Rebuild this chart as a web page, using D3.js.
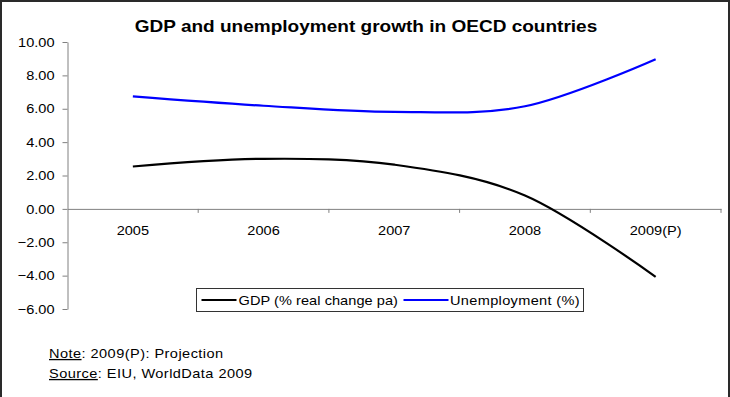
<!DOCTYPE html>
<html>
<head>
<meta charset="utf-8">
<script src="https://cdn.jsdelivr.net/npm/d3@7"></script>
<style>
  html, body { margin: 0; padding: 0; background: #fff; }
  svg { display: block; font-family: "Liberation Sans", Arial, sans-serif; }
</style>
</head>
<body>
<svg id="chart" width="730" height="397"></svg>
<script>
// OECD GDP growth and unemployment, 2005-2009 (2009 projected)
const years = ["2005", "2006", "2007", "2008", "2009(P)"];
const gdp = [2.54, 3.0, 2.65, 0.8, -4.07];
const unemployment = [6.74, 6.18, 5.81, 6.15, 8.97];
const yTicks = [10, 8, 6, 4, 2, 0, -2, -4, -6];
const seriesNames = ["GDP (% real change pa)", "Unemployment (%)"];
const seriesColors = ["#000000", "#0000ff"];

const svg = d3.select("#chart");
const W = 730, H = 397;
const SX = 1.12; // horizontal stretch applied to all text

// frame around the whole chart
svg.append("rect")
  .attr("x", 1).attr("y", 1)
  .attr("width", W - 2).attr("height", H + 4)
  .attr("fill", "#fff").attr("stroke", "#2a2a2a").attr("stroke-width", 2);

const plot = { left: 67.5, right: 721, top: 42, bottom: 309 };

const x = d3.scaleBand().domain(years).range([plot.left, plot.right]).padding(0);
const y = d3.scaleLinear().domain([-6, 10]).range([plot.bottom, plot.top]);

function placeText(sel, px, py) {
  return sel.attr("transform", `translate(${px},${py}) scale(${SX},1)`);
}

// title
placeText(svg.append("text"), 366, 32)
  .attr("text-anchor", "middle")
  .attr("font-size", 17).attr("font-weight", "bold")
  .text("GDP and unemployment growth in OECD countries");

// y axis
const yAxis = svg.append("g")
  .attr("transform", `translate(${plot.left},0)`)
  .call(d3.axisLeft(y).tickValues(yTicks).tickFormat(d3.format(".2f")).tickSize(5).tickSizeOuter(0));
yAxis.select(".domain").attr("stroke", "#808080");
yAxis.selectAll(".tick line").attr("stroke", "#808080");
yAxis.selectAll(".tick text")
  .attr("font-size", 13).attr("fill", "#000")
  .attr("font-family", "Liberation Sans, Arial, sans-serif")
  .attr("x", -13 / SX)
  .attr("transform", `scale(${SX},1)`);

// x axis at zero: category labels centred in bands, ticks on band boundaries
const zeroY = y(0);
const xAxis = svg.append("g")
  .attr("transform", `translate(0,${zeroY})`)
  .call(d3.axisBottom(x).tickSize(0).tickPadding(17).tickSizeOuter(0));
xAxis.select(".domain").attr("stroke", "#808080");
xAxis.selectAll(".tick text")
  .attr("font-size", 13).attr("fill", "#000")
  .attr("font-family", "Liberation Sans, Arial, sans-serif")
  .attr("transform", `scale(${SX},1)`);

const boundaries = years.map(d => x(d)).concat([x.range()[1]]).slice(1);
svg.append("g").selectAll("line")
  .data(boundaries).join("line")
  .attr("x1", d => d).attr("x2", d => d)
  .attr("y1", zeroY).attr("y2", zeroY + 4)
  .attr("stroke", "#808080");

// smoothed series lines
const line = d3.line()
  .x((d, i) => x(years[i]) + x.bandwidth() / 2)
  .y(d => y(d))
  .curve(d3.curveCatmullRom.alpha(0));

[gdp, unemployment].forEach((vals, k) => {
  svg.append("path")
    .datum(vals)
    .attr("d", line)
    .attr("fill", "none")
    .attr("stroke", seriesColors[k])
    .attr("stroke-width", 2.2)
    .attr("stroke-linejoin", "round");
});

// legend
const legend = svg.append("g");
legend.append("rect")
  .attr("x", 196.5).attr("y", 288.5)
  .attr("width", 387).attr("height", 23)
  .attr("fill", "#fff").attr("stroke", "#333").attr("stroke-width", 1);
const legendItems = [
  { x0: 201.5, x1: 236.5, tx: 238.5 },
  { x0: 403.5, x1: 448.5, tx: 450 }
];
legendItems.forEach((it, k) => {
  legend.append("line")
    .attr("x1", it.x0).attr("x2", it.x1)
    .attr("y1", 300).attr("y2", 300)
    .attr("stroke", seriesColors[k]).attr("stroke-width", 2);
  placeText(legend.append("text"), it.tx, 304.5)
    .attr("font-size", 13)
    .attr("letter-spacing", k === 1 ? 0.3 : 0.05)
    .text(seriesNames[k]);
});

// footnotes
const note = placeText(svg.append("text"), 49, 358).attr("font-size", 13).attr("letter-spacing", 0.4);
note.append("tspan").attr("text-decoration", "underline").text("Note");
note.append("tspan").text(": 2009(P): Projection");
const src = placeText(svg.append("text"), 49, 378).attr("font-size", 13).attr("letter-spacing", 0.4);
src.append("tspan").attr("text-decoration", "underline").text("Source");
src.append("tspan").text(": EIU, WorldData 2009");
</script>
</body>
</html>
